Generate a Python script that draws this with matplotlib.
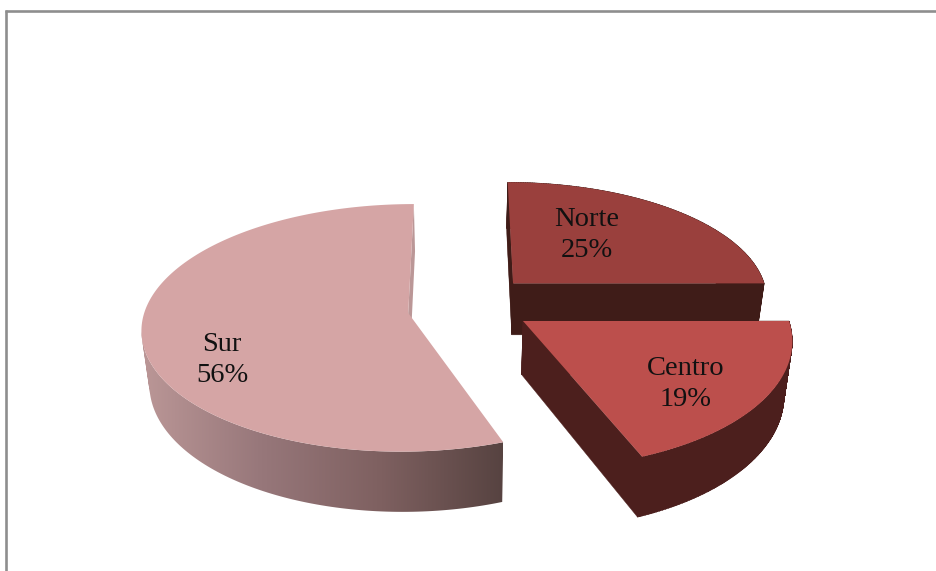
#!/usr/bin/python
# coding=utf-8

import matplotlib
matplotlib.use("Agg")
import matplotlib.pyplot as plt
import numpy as np
from matplotlib.colors import LinearSegmentedColormap
from matplotlib.patches import Polygon
from matplotlib.path import Path
from matplotlib.patches import PathPatch

# Chart values.
names  = ["Norte", "Centro", "Sur"]
values = [25, 19, 56]

# Slice styles and where each one is pulled out to (plane units).
top_colors  = ["#9A403D", "#BC4F4C", "#D5A5A5"]
side_colors = ["#3F1C18", "#4C1F1D", "#BB9797"]
offsets     = [(0.203, -0.25), (0.233, 0.065), (-0.2, 0.0)]
radii       = [(0.98, 0.98), (1.0, 1.04), (1.0, 1.0)]
start_trim  = [0.0, 0.0, 1.6]
label_pos   = [(587, 235), (686, 384), (222, 360)]

# Camera: perspective of the pie plane, in pixels.
vx, vy = 461.0, 313.0
ax_x   = 264.0
ax_y   = 122.0
k      = 0.12
depth  = 53.0
shrink = 0.975


def project(X, Y):
    w = 1 - k * Y
    return vx + ax_x * X / w, vy + ax_y * Y / w


def extrude(px, py, X, Y):
    w = 1 - k * Y
    return vx + (px - vx) * shrink, py + depth / w


def slice_outline(start, stop, offset, radius):
    # Angles are clockwise from 12 o'clock.
    a = np.radians(np.linspace(start, stop, 200))
    X = offset[0] + radius[0] * np.sin(a)
    Y = offset[1] - radius[1] * np.cos(a)
    return X, Y


fig = plt.figure(figsize=(9.36, 5.71), dpi=100)
ax = fig.add_axes([0, 0, 1, 1])

# Angles of each slice from the values.
edges = 360.0 * np.cumsum([0] + values) / np.sum(values)


def side_path(X, Y):
    # One quad per outline segment, all wound the same way, in a single path
    # so that no seams show between them.
    px, py = project(X, Y)
    bx, by = extrude(px, py, X, Y)
    verts, codes = [], []
    for i in range(len(px) - 1):
        quad = [(px[i], py[i]), (px[i + 1], py[i + 1]),
                (bx[i + 1], by[i + 1]), (bx[i], by[i])]
        xs, ys = zip(*quad)
        area = np.dot(xs, np.roll(ys, 1)) - np.dot(ys, np.roll(xs, 1))
        if area < 0:
            quad = quad[::-1]
        verts += quad + [quad[0]]
        codes += [Path.MOVETO, Path.LINETO, Path.LINETO, Path.LINETO, Path.CLOSEPOLY]
    return Path(verts, codes)


def draw_top(X, Y, color):
    px, py = project(X, Y)
    ax.add_patch(Polygon(np.column_stack([px, py]), closed=True, fc=color, ec="none"))


def gradient_fill(path, colors, vertical=False):
    # Clip a colour ramp to the given path.
    patch = PathPatch(path, fc="none", ec="none")
    ax.add_patch(patch)
    cmap = LinearSegmentedColormap.from_list("ramp", colors)
    ramp = np.linspace(0, 1, 256).reshape(-1, 1) if vertical else np.linspace(0, 1, 256).reshape(1, -1)
    x0, y0 = path.vertices.min(axis=0)
    x1, y1 = path.vertices.max(axis=0)
    im = ax.imshow(ramp, cmap=cmap, aspect="auto", extent=(x0, x1, y1, y0), origin="upper")
    im.set_clip_path(patch)


# Back to front: Norte, Sur, Centro.
for i in [0, 2, 1]:
    off = offsets[i]
    X, Y = slice_outline(edges[i] + start_trim[i], edges[i + 1], off, radii[i])
    # Close the outline through the apex.
    X_full = np.concatenate([[off[0]], X, [off[0]]])
    Y_full = np.concatenate([[off[1]], Y, [off[1]]])

    if names[i] == "Sur":
        # Only the cut face at 12 o'clock shows flat, the rim has a gradient.
        ax.add_patch(PathPatch(side_path(np.array([X[-1], off[0]]), np.array([Y[-1], off[1]])),
                               fc=side_colors[i], ec="none"))
        px, py = project(X, Y)
        last = np.argmin(px) + 1
        gradient_fill(side_path(X[:last], Y[:last]), ["#BB9797", "#97777A", "#7E6060", "#574341"])
    else:
        ax.add_patch(PathPatch(side_path(X_full, Y_full), fc=side_colors[i], ec=side_colors[i], lw=0.3))
        if names[i] == "Norte":
            # The cut face on the left fades from the top colour to the shadow.
            gradient_fill(side_path(np.array([off[0], X[0]]), np.array([off[1], Y[0]])),
                          ["#84393A", "#5A2622", "#3F1C18"], vertical=True)

    draw_top(X_full, Y_full, top_colors[i])

# Labels.
for name, value, pos in zip(names, values, label_pos):
    ax.text(pos[0], pos[1], "%s\n%d%%" % (name, value), ha="center", va="center",
            family="Liberation Serif", fontsize=20.5, linespacing=1.33, color="#111111")

# Frame of the chart, cut off by the picture on the right and bottom.
ax.plot([6.2, 6.2], [571, 10], color="#8E8E8E", lw=1.9, solid_capstyle="butt")
ax.plot([5, 936], [11.2, 11.2], color="#8E8E8E", lw=1.9, solid_capstyle="butt")

ax.set_xlim(0, 936)
ax.set_ylim(571, 0)
ax.axis("off")

fig.savefig("out.png", dpi=100)
